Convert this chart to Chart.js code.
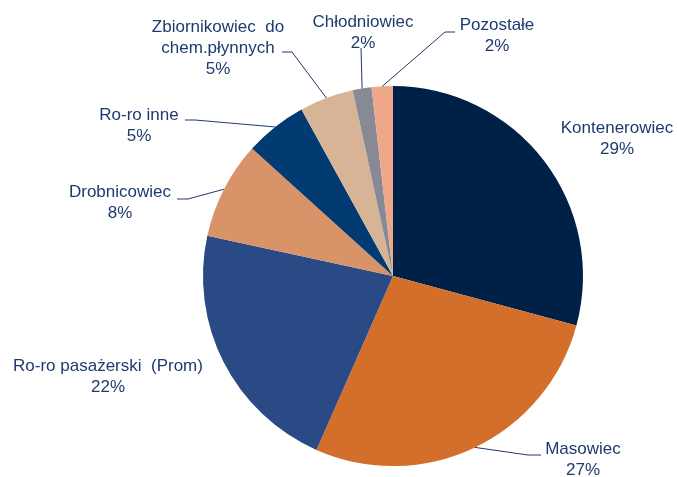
<!DOCTYPE html>
<html>
<head>
<meta charset="utf-8">
<script src="https://cdn.jsdelivr.net/npm/chart.js@4"></script>
<style>
  html, body { margin: 0; padding: 0; background: #fff; }
  #wrap { width: 677px; height: 477px; }
</style>
</head>
<body>
<div id="wrap"><canvas id="pieChart" width="677" height="477"></canvas></div>
<script>
// Dane (udział w %)
const categories = [
  "Kontenerowiec",
  "Masowiec",
  "Ro-ro pasażerski  (Prom)",
  "Drobnicowiec",
  "Ro-ro inne",
  "Zbiornikowiec  do|chem.płynnych",
  "Chłodniowiec",
  "Pozostałe"
];
const shares = [29.2, 27.4, 21.8, 8.3, 5.3, 4.6, 1.6, 1.8];
const colors = ["#002147", "#D46F2B", "#2A4A85", "#D89468", "#023A72", "#D8B496", "#878A95", "#EFA78A"];

// Położenie etykiet (środek tekstu, pierwsza linia) i punkt załamania linii odniesienia
const labelLayout = [
  { x: 617, y: 128 },
  { x: 583, y: 449, lead: [[541, 455], [528, 455]] },
  { x: 108, y: 366 },
  { x: 120, y: 192, lead: [[177, 199], [188, 199]] },
  { x: 139, y: 115, lead: [[185, 120], [195, 120]] },
  { x: 218, y: 27, lead: [[282, 52], [292, 52]] },
  { x: 363, y: 22, lead: [[361, 48]] },
  { x: 497, y: 25, lead: [[455, 32], [445, 32]] }
];

const textColor = "#1F3A6E";

const labelPlugin = {
  id: 'pieLabels',
  afterDatasetsDraw(chart) {
    const ctx = chart.ctx;
    const arcs = chart.getDatasetMeta(0).data;
    ctx.save();
    ctx.font = '17px "Liberation Sans", Arial, sans-serif';
    ctx.fillStyle = textColor;
    ctx.strokeStyle = textColor;
    ctx.lineWidth = 1;
    ctx.textAlign = 'center';
    ctx.textBaseline = 'middle';
    arcs.forEach((arc, i) => {
      const lay = labelLayout[i];
      const lines = categories[i].split('|');
      lines.push(Math.round(shares[i]) + '%');
      lines.forEach((t, j) => ctx.fillText(t, lay.x, lay.y + j * 21));
      if (lay.lead) {
        const p = arc.getProps(['x', 'y', 'startAngle', 'endAngle', 'outerRadius'], true);
        const mid = (p.startAngle + p.endAngle) / 2;
        const ex = p.x + Math.cos(mid) * p.outerRadius;
        const ey = p.y + Math.sin(mid) * p.outerRadius;
        ctx.beginPath();
        ctx.moveTo(lay.lead[0][0], lay.lead[0][1]);
        for (let k = 1; k < lay.lead.length; k++) ctx.lineTo(lay.lead[k][0], lay.lead[k][1]);
        ctx.lineTo(ex, ey);
        ctx.stroke();
      }
    });
    ctx.restore();
  }
};

new Chart(document.getElementById('pieChart').getContext('2d'), {
  type: 'pie',
  data: {
    labels: categories.map(c => c.replace('|', ' ')),
    datasets: [{
      data: shares,
      backgroundColor: colors,
      borderWidth: 0
    }]
  },
  options: {
    responsive: false,
    animation: false,
    layout: { padding: { top: 86, bottom: 11, left: 203, right: 94 } },
    plugins: {
      legend: { display: false },
      tooltip: { enabled: false }
    }
  },
  plugins: [labelPlugin]
});
</script>
</body>
</html>
